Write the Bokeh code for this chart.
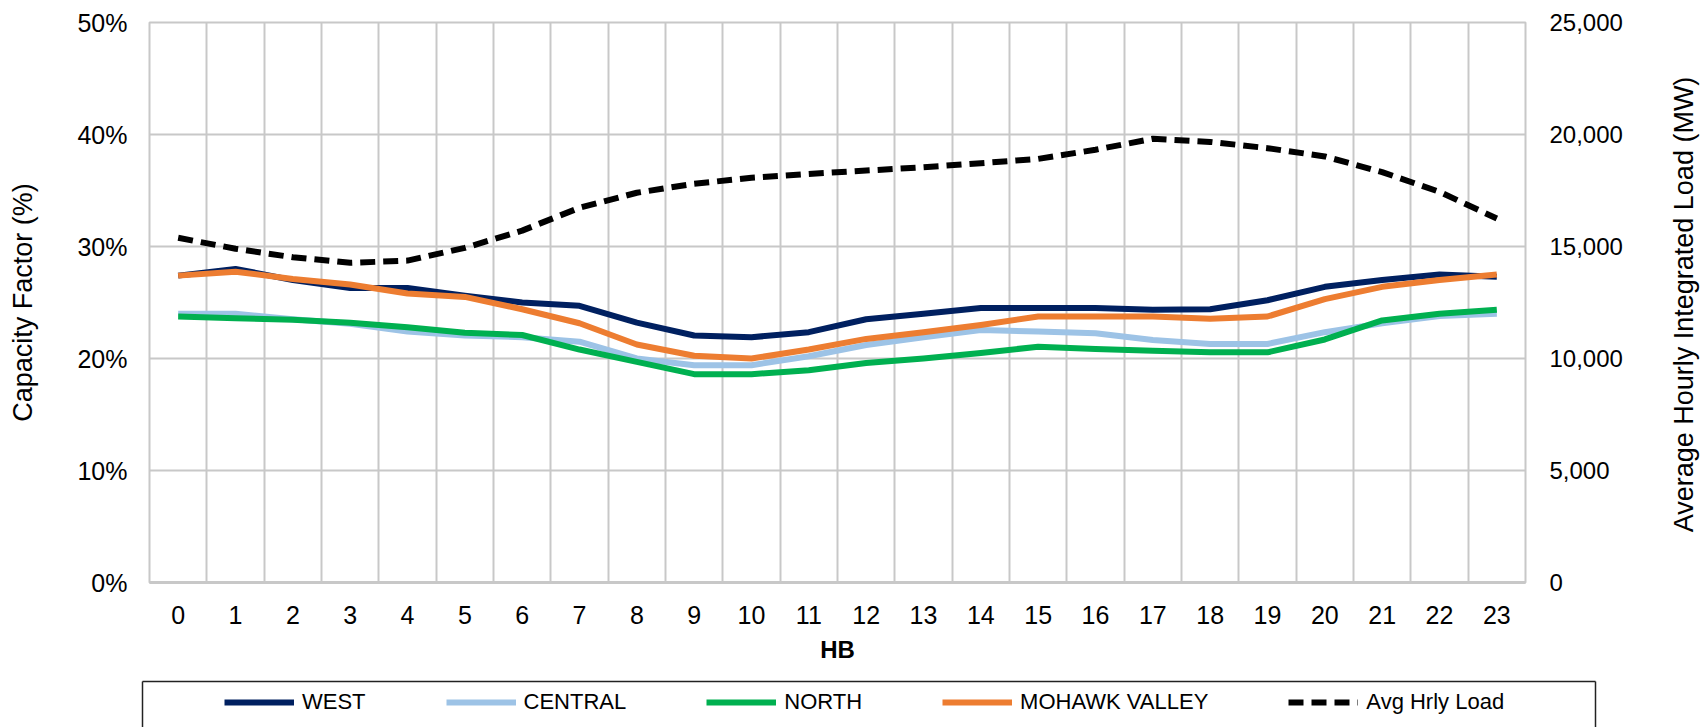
import math
from bokeh.plotting import figure
from bokeh.layouts import column, row
from bokeh.models import (Range1d, LinearAxis, FixedTicker, PrintfTickFormatter,
                          NumeralTickFormatter, Legend, LegendItem, Label)
from bokeh.embed import file_html
from bokeh.resources import INLINE

# ---- data ----
hours = list(range(24))
west = [27.4, 28.0, 27.0, 26.3, 26.3, 25.6, 25.0, 24.7, 23.2, 22.05, 21.9, 22.35,
        23.5, 24.0, 24.5, 24.5, 24.5, 24.35, 24.4, 25.2, 26.4, 27.0, 27.5, 27.3]
central = [24.0, 24.0, 23.5, 23.1, 22.4, 22.05, 21.9, 21.5, 20.0, 19.4, 19.4, 20.2,
           21.2, 21.9, 22.55, 22.4, 22.25, 21.65, 21.3, 21.3, 22.35, 23.15, 23.8, 24.0]
north = [23.75, 23.6, 23.45, 23.2, 22.8, 22.3, 22.1, 20.8, 19.7, 18.6, 18.6, 18.95,
         19.6, 20.0, 20.5, 21.05, 20.85, 20.7, 20.55, 20.55, 21.7, 23.4, 24.0, 24.35]
mohawk = [27.4, 27.75, 27.1, 26.6, 25.8, 25.5, 24.4, 23.15, 21.25, 20.25, 20.0, 20.8,
          21.75, 22.35, 23.0, 23.75, 23.75, 23.75, 23.55, 23.75, 25.3, 26.4, 27.0, 27.5]
load = [15390, 14900, 14520, 14270, 14370, 14940, 15710, 16730, 17400, 17800, 18070, 18240,
        18390, 18540, 18720, 18910, 19320, 19810, 19670, 19390, 19020, 18320, 17440, 16250]
pct_ticks = [0, 10, 20, 30, 40, 50]
load_ticks = [0, 5000, 10000, 15000, 20000, 25000]
series_names = ["WEST", "CENTRAL", "NORTH", "MOHAWK VALLEY", "Avg Hrly Load"]
series_colors = ["#002060", "#9DC3E6", "#00B050", "#ED7D31", "black"]
series_dash = ["solid", "solid", "solid", "solid", "15 8"]
right_title = "Average Hourly Integrated Load (MW)"

FONT = "Liberation Sans"
GRID = "#C8C8C8"
LW = 6

# ---- main chart ----
p = figure(width=1630, height=680, x_range=Range1d(-0.5, 23.5), y_range=Range1d(0, 50),
           output_backend="svg", toolbar_location=None,
           min_border_left=149, min_border_right=105, min_border_top=22, min_border_bottom=98)
p.frame_align = False
p.extra_y_ranges = {"load": Range1d(0, 25000)}
p.outline_line_color = GRID
p.outline_line_width = 2

all_series = [west, central, north, mohawk]
for ys, c, d in zip(all_series, series_colors[:4], series_dash[:4]):
    p.line(hours, ys, line_color=c, line_width=LW, line_join="round", line_dash=d)
p.line(hours, load, y_range_name="load", line_color=series_colors[4],
       line_width=LW, line_dash=series_dash[4], line_join="round")

p.xgrid.ticker = FixedTicker(ticks=[h - 0.5 for h in hours] + [hours[-1] + 0.5])
p.ygrid.ticker = FixedTicker(ticks=pct_ticks)
for g in (p.xgrid, p.ygrid):
    g.grid_line_color = GRID
    g.grid_line_width = 2

def style_axis(ax, size):
    ax.axis_line_color = None
    ax.major_tick_line_color = None
    ax.minor_tick_line_color = None
    ax.major_tick_out = 0
    ax.major_tick_in = 0
    ax.minor_tick_out = 0
    ax.minor_tick_in = 0
    ax.major_label_text_font = FONT
    ax.major_label_text_font_size = size
    ax.major_label_text_color = "black"
    ax.axis_label_text_font = FONT
    ax.axis_label_text_color = "black"

xa = p.xaxis[0]
xa.ticker = FixedTicker(ticks=hours)
style_axis(xa, "25px")
xa.axis_line_color = GRID
xa.axis_line_width = 3
xa.major_label_standoff = 23
xa.axis_label = "HB"
xa.axis_label_text_font_style = "bold"
xa.axis_label_text_font_size = "24px"
xa.axis_label_standoff = 9

ya = p.yaxis[0]
ya.ticker = FixedTicker(ticks=pct_ticks)
ya.formatter = PrintfTickFormatter(format="%d%%")
style_axis(ya, "25px")
ya.major_label_standoff = 22
ya.axis_label = "Capacity Factor (%)"
ya.axis_label_text_font_style = "normal"
ya.axis_label_text_font_size = "27px"
ya.axis_label_standoff = 36

ra = LinearAxis(y_range_name="load", ticker=FixedTicker(ticks=load_ticks),
                formatter=NumeralTickFormatter(format="0,0"))
style_axis(ra, "24px")
ra.major_label_standoff = 24
p.add_layout(ra, "right")

# ---- right-axis title (reads bottom to top) ----
p3 = figure(width=70, height=680, x_range=Range1d(0, 1), y_range=Range1d(0, 1),
            output_backend="svg", toolbar_location=None,
            x_axis_location=None, y_axis_location=None, min_border=0)
p3.frame_align = False
p3.outline_line_color = None
p3.xgrid.visible = False
p3.ygrid.visible = False
p3.add_layout(Label(x=53, y=376, x_units="screen", y_units="screen", angle=math.pi / 2,
                    text=right_title, text_align="center", text_baseline="middle",
                    text_font=FONT, text_font_size="27px", text_color="black"))

# ---- legend strip (box open at the bottom, like the reference crop) ----
p2 = figure(width=1700, height=47, x_range=Range1d(0, 1), y_range=Range1d(0, 1),
            output_backend="svg", toolbar_location=None,
            x_axis_location=None, y_axis_location=None,
            min_border_left=142, min_border_right=105, min_border_top=1, min_border_bottom=0)
p2.frame_align = False
p2.outline_line_color = None
p2.xgrid.visible = False
p2.ygrid.visible = False
for side in ("above", "left", "right"):
    ax = LinearAxis(ticker=FixedTicker(ticks=[]))
    ax.axis_line_color = "#222222"
    ax.axis_line_width = 1.5
    ax.major_tick_line_color = None
    ax.minor_tick_line_color = None
    ax.major_tick_out = 0
    ax.minor_tick_out = 0
    ax.major_label_text_font_size = "0px"
    ax.major_label_standoff = 0
    p2.add_layout(ax, side)

# legend keys: same series, drawn outside this strip's visible range (only keys show)
keys = [p2.line(hours, ys, line_color=c, line_width=LW, line_dash=d)
        for ys, c, d in zip(all_series + [load], series_colors, series_dash)]
items = [LegendItem(label=n, renderers=[r]) for n, r in zip(series_names, keys)]
leg = Legend(items=items, orientation="horizontal", location=(78, 8),
             padding=4, spacing=80, glyph_width=70, glyph_height=24,
             label_height=24, label_standoff=8, margin=0,
             label_text_font=FONT, label_text_font_size="22px", label_text_color="black",
             border_line_alpha=0, background_fill_alpha=0)
p2.add_layout(leg)

layout = column(row(p, p3, spacing=0), p2, spacing=0)
open("out.html", "w").write(file_html(layout, INLINE))
